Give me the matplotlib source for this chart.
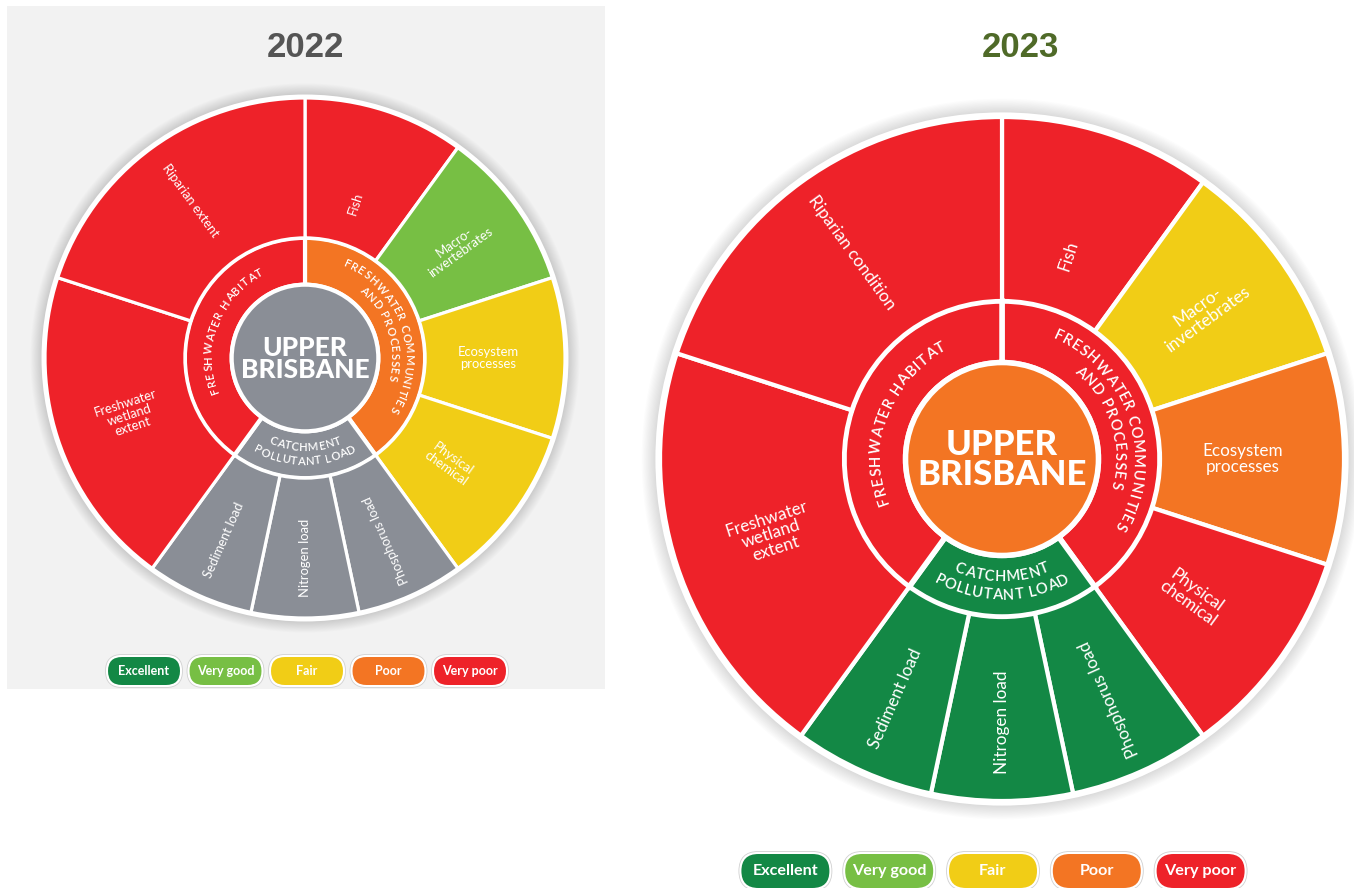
import numpy as np
import matplotlib
matplotlib.use("Agg")
import matplotlib.pyplot as plt
from matplotlib.patches import Wedge, Circle, Rectangle, FancyBboxPatch
from matplotlib.font_manager import FontProperties

W, H, DPI = 1354, 888, 100

# ---------------- data ----------------
years = ["2022", "2023"]
region = "UPPER\nBRISBANE"
grades = ["Excellent", "Very good", "Fair", "Poor", "Very poor"]
grade_colors = ["#138845", "#77BF44", "#F1CD16", "#F37523", "#EE2229"]
na_color = "#8A8E96"

# groups listed clockwise from 12 o'clock
group_names = ["FRESHWATER COMMUNITIES\nAND PROCESSES", "CATCHMENT\nPOLLUTANT LOAD", "FRESHWATER HABITAT"]
group_span = [4, 2, 4]          # share of the full circle (out of 10)

leaves_2022 = [["Fish", "Macro-\ninvertebrates", "Ecosystem\nprocesses", "Physical\nchemical"],
               ["Phosphorus load", "Nitrogen load", "Sediment load"],
               ["Freshwater\nwetland\nextent", "Riparian extent"]]
leaves_2023 = [["Fish", "Macro-\ninvertebrates", "Ecosystem\nprocesses", "Physical\nchemical"],
               ["Phosphorus load", "Nitrogen load", "Sediment load"],
               ["Freshwater\nwetland\nextent", "Riparian condition"]]

center_grade_2022 = None
group_grades_2022 = ["Poor", None, "Very poor"]
leaf_grades_2022 = [["Very poor", "Very good", "Fair", "Fair"],
                    [None, None, None],
                    ["Very poor", "Very poor"]]

center_grade_2023 = "Poor"
group_grades_2023 = ["Very poor", "Excellent", "Very poor"]
leaf_grades_2023 = [["Very poor", "Fair", "Poor", "Very poor"],
                    ["Excellent", "Excellent", "Excellent"],
                    ["Very poor", "Very poor"]]

title_colors = ["#555555", "#4F6A28"]

# ---------------- layout ----------------
leaf_label_frac = [[0.30, 0.49, 0.45, 0.42], [0.57, 0.57, 0.57], [0.46, 0.53]]
charts = [dict(cx=305, cy=H - 358, R=260, title_x=305),
          dict(cx=1002, cy=H - 459, R=342, title_x=1020)]
legends = [dict(cx=307, cy=H - 671, w=72, h=28, step=81.5, fs=9.0),
           dict(cx=993, cy=H - 871, w=88, h=34, step=103.8, fs=11.6)]

FAM = ["Lato", "DejaVu Sans"]

def gcolor(g):
    return na_color if g is None else grade_colors[grades.index(g)]

fig = plt.figure(figsize=(W / DPI, H / DPI), dpi=DPI)
ax = fig.add_axes([0, 0, 1, 1])
ax.set_xlim(0, W)
ax.set_ylim(0, H)
ax.axis("off")
renderer = fig.canvas.get_renderer()

# grey panel behind 2022
ax.add_patch(Rectangle((7, H - 689), 598, 683, color="#F2F2F2", zorder=0, lw=0))


def tw(s, prop):
    return renderer.get_text_width_height_descent(s, prop, ismath=False)[0]


def arc_text(text, cx, cy, r, theta_c, size, clockwise, weight="semibold", track=0.06, z=6):
    prop = FontProperties(family=FAM, weight=weight, size=size)
    em = size * DPI / 72
    extra = track * em
    centers = []
    for i, ch in enumerate(text):
        if ch == " ":
            centers.append(None)
            continue
        right = tw(text[:i + 1], prop)
        centers.append(right - tw(ch, prop) / 2 + i * extra)
    total = tw(text, prop) + (len(text) - 1) * extra
    th_c = np.radians(theta_c)
    for ch, cpos in zip(text, centers):
        if cpos is None:
            continue
        off = (cpos - total / 2) / r
        th = th_c - off if clockwise else th_c + off
        x, y = cx + r * np.cos(th), cy + r * np.sin(th)
        rot = np.degrees(th) - 90 if clockwise else np.degrees(th) + 90
        ax.text(x, y, ch, rotation=rot, rotation_mode="anchor", ha="center", va="baseline",
                fontproperties=prop, color="white", zorder=z)


def draw_chart(idx, leaves, center_grade, group_grades, leaf_grades):
    c = charts[idx]
    cx, cy, R = c["cx"], c["cy"], c["R"]
    s = R / 260.0
    r1 = 0.462 * R
    r0 = 0.282 * R
    lw_line = 2.3 * s
    # shadow
    for k in range(14):
        ax.add_patch(Circle((cx, cy), R + 3 + k * 0.9 * s, color="black", alpha=0.012, lw=0, zorder=1))
    ax.add_patch(Circle((cx, cy), R + 3.5 * s, color="white", lw=0, zorder=2))

    unit = 360.0 / sum(group_span)
    a = 90.0
    for gi, gname in enumerate(group_names):
        span = group_span[gi] * unit
        a_hi, a_lo = a, a - span
        ax.add_patch(Wedge((cx, cy), r1, a_lo, a_hi, width=r1 - r0, facecolor=gcolor(group_grades[gi]),
                           edgecolor="white", lw=lw_line * 1.3, zorder=3))
        n = len(leaves[gi])
        lspan = span / n
        for li in range(n):
            l_hi = a_hi - li * lspan
            l_lo = l_hi - lspan
            ax.add_patch(Wedge((cx, cy), R, l_lo, l_hi, width=R - r1, facecolor=gcolor(leaf_grades[gi][li]),
                               edgecolor="white", lw=lw_line, zorder=3))
            m = (l_lo + l_hi) / 2
            m = (m + 180) % 360 - 180
            rot = m if -45 <= m <= 90 else m + 180
            rl = r1 + leaf_label_frac[gi][li] * (R - r1)
            ax.text(cx + rl * np.cos(np.radians(m)), cy + rl * np.sin(np.radians(m)), leaves[gi][li],
                    rotation=rot, rotation_mode="anchor", ha="center", va="center", multialignment="center",
                    family=FAM, fontsize=9.4 * s, color="white", linespacing=1.0, zorder=6)
        # group label
        mid = (a_hi + a_lo) / 2
        mid = (mid + 180) % 360 - 180
        rm = (r0 + r1) / 2
        fs = 8.1 * s
        em = fs * DPI / 72
        cap = 0.72 * em
        lines = gname.split("\n")
        if not (-135 < mid < -45):  # clockwise text, tops outward
            if len(lines) == 1:
                arc_text(lines[0], cx, cy, rm - cap / 2, mid - 3, fs, True)
            else:
                L = 1.25 * em
                arc_text(lines[0], cx, cy, rm + L / 2 - cap / 2, mid, fs, True)
                arc_text(lines[1], cx, cy, rm - L / 2 - cap / 2, mid, fs, True)
        else:  # bottom: counter-clockwise, tops inward
            L = 1.25 * em
            arc_text(lines[0], cx, cy, rm - L / 2 + cap / 2 - 1 * s, mid, fs, False)
            arc_text(lines[1], cx, cy, rm + L / 2 + cap / 2 - 1 * s, mid, fs, False)
        a = a_lo

    # centre
    ax.add_patch(Circle((cx, cy), r0, facecolor=gcolor(center_grade), edgecolor="white",
                        lw=lw_line * 1.3, zorder=4))
    ax.text(cx, cy - 1, region, ha="center", va="center", family=FAM, weight="black",
            fontsize=19 * s, color="white", linespacing=0.95, zorder=6)
    # title
    ax.text(c["title_x"], H - 57, years[idx], ha="center", va="baseline", family=["Liberation Sans", "DejaVu Sans"],
            weight="bold", fontsize=25, color=title_colors[idx], zorder=6)
    # legend
    lg = legends[idx]
    for k, (g, col) in enumerate(zip(grades, grade_colors)):
        x = lg["cx"] + (k - 2) * lg["step"]
        w, h = lg["w"], lg["h"]
        ax.add_patch(FancyBboxPatch((x - w / 2 - 2.5, lg["cy"] - h / 2 - 2.5), w + 5, h + 5,
                                    boxstyle=f"round,pad=0,rounding_size={(h + 5) / 2}",
                                    facecolor="white", edgecolor="#D0D0D0", lw=0.6, zorder=3))
        ax.add_patch(FancyBboxPatch((x - w / 2, lg["cy"] - h / 2), w, h,
                                    boxstyle=f"round,pad=0,rounding_size={h / 2}",
                                    facecolor=col, edgecolor="none", zorder=4))
        ax.text(x, lg["cy"], g, ha="center", va="center", family=FAM, weight="bold",
                fontsize=lg["fs"], color="white", zorder=6)


draw_chart(0, leaves_2022, center_grade_2022, group_grades_2022, leaf_grades_2022)
draw_chart(1, leaves_2023, center_grade_2023, group_grades_2023, leaf_grades_2023)

fig.savefig("out.png", dpi=DPI, facecolor="white")
